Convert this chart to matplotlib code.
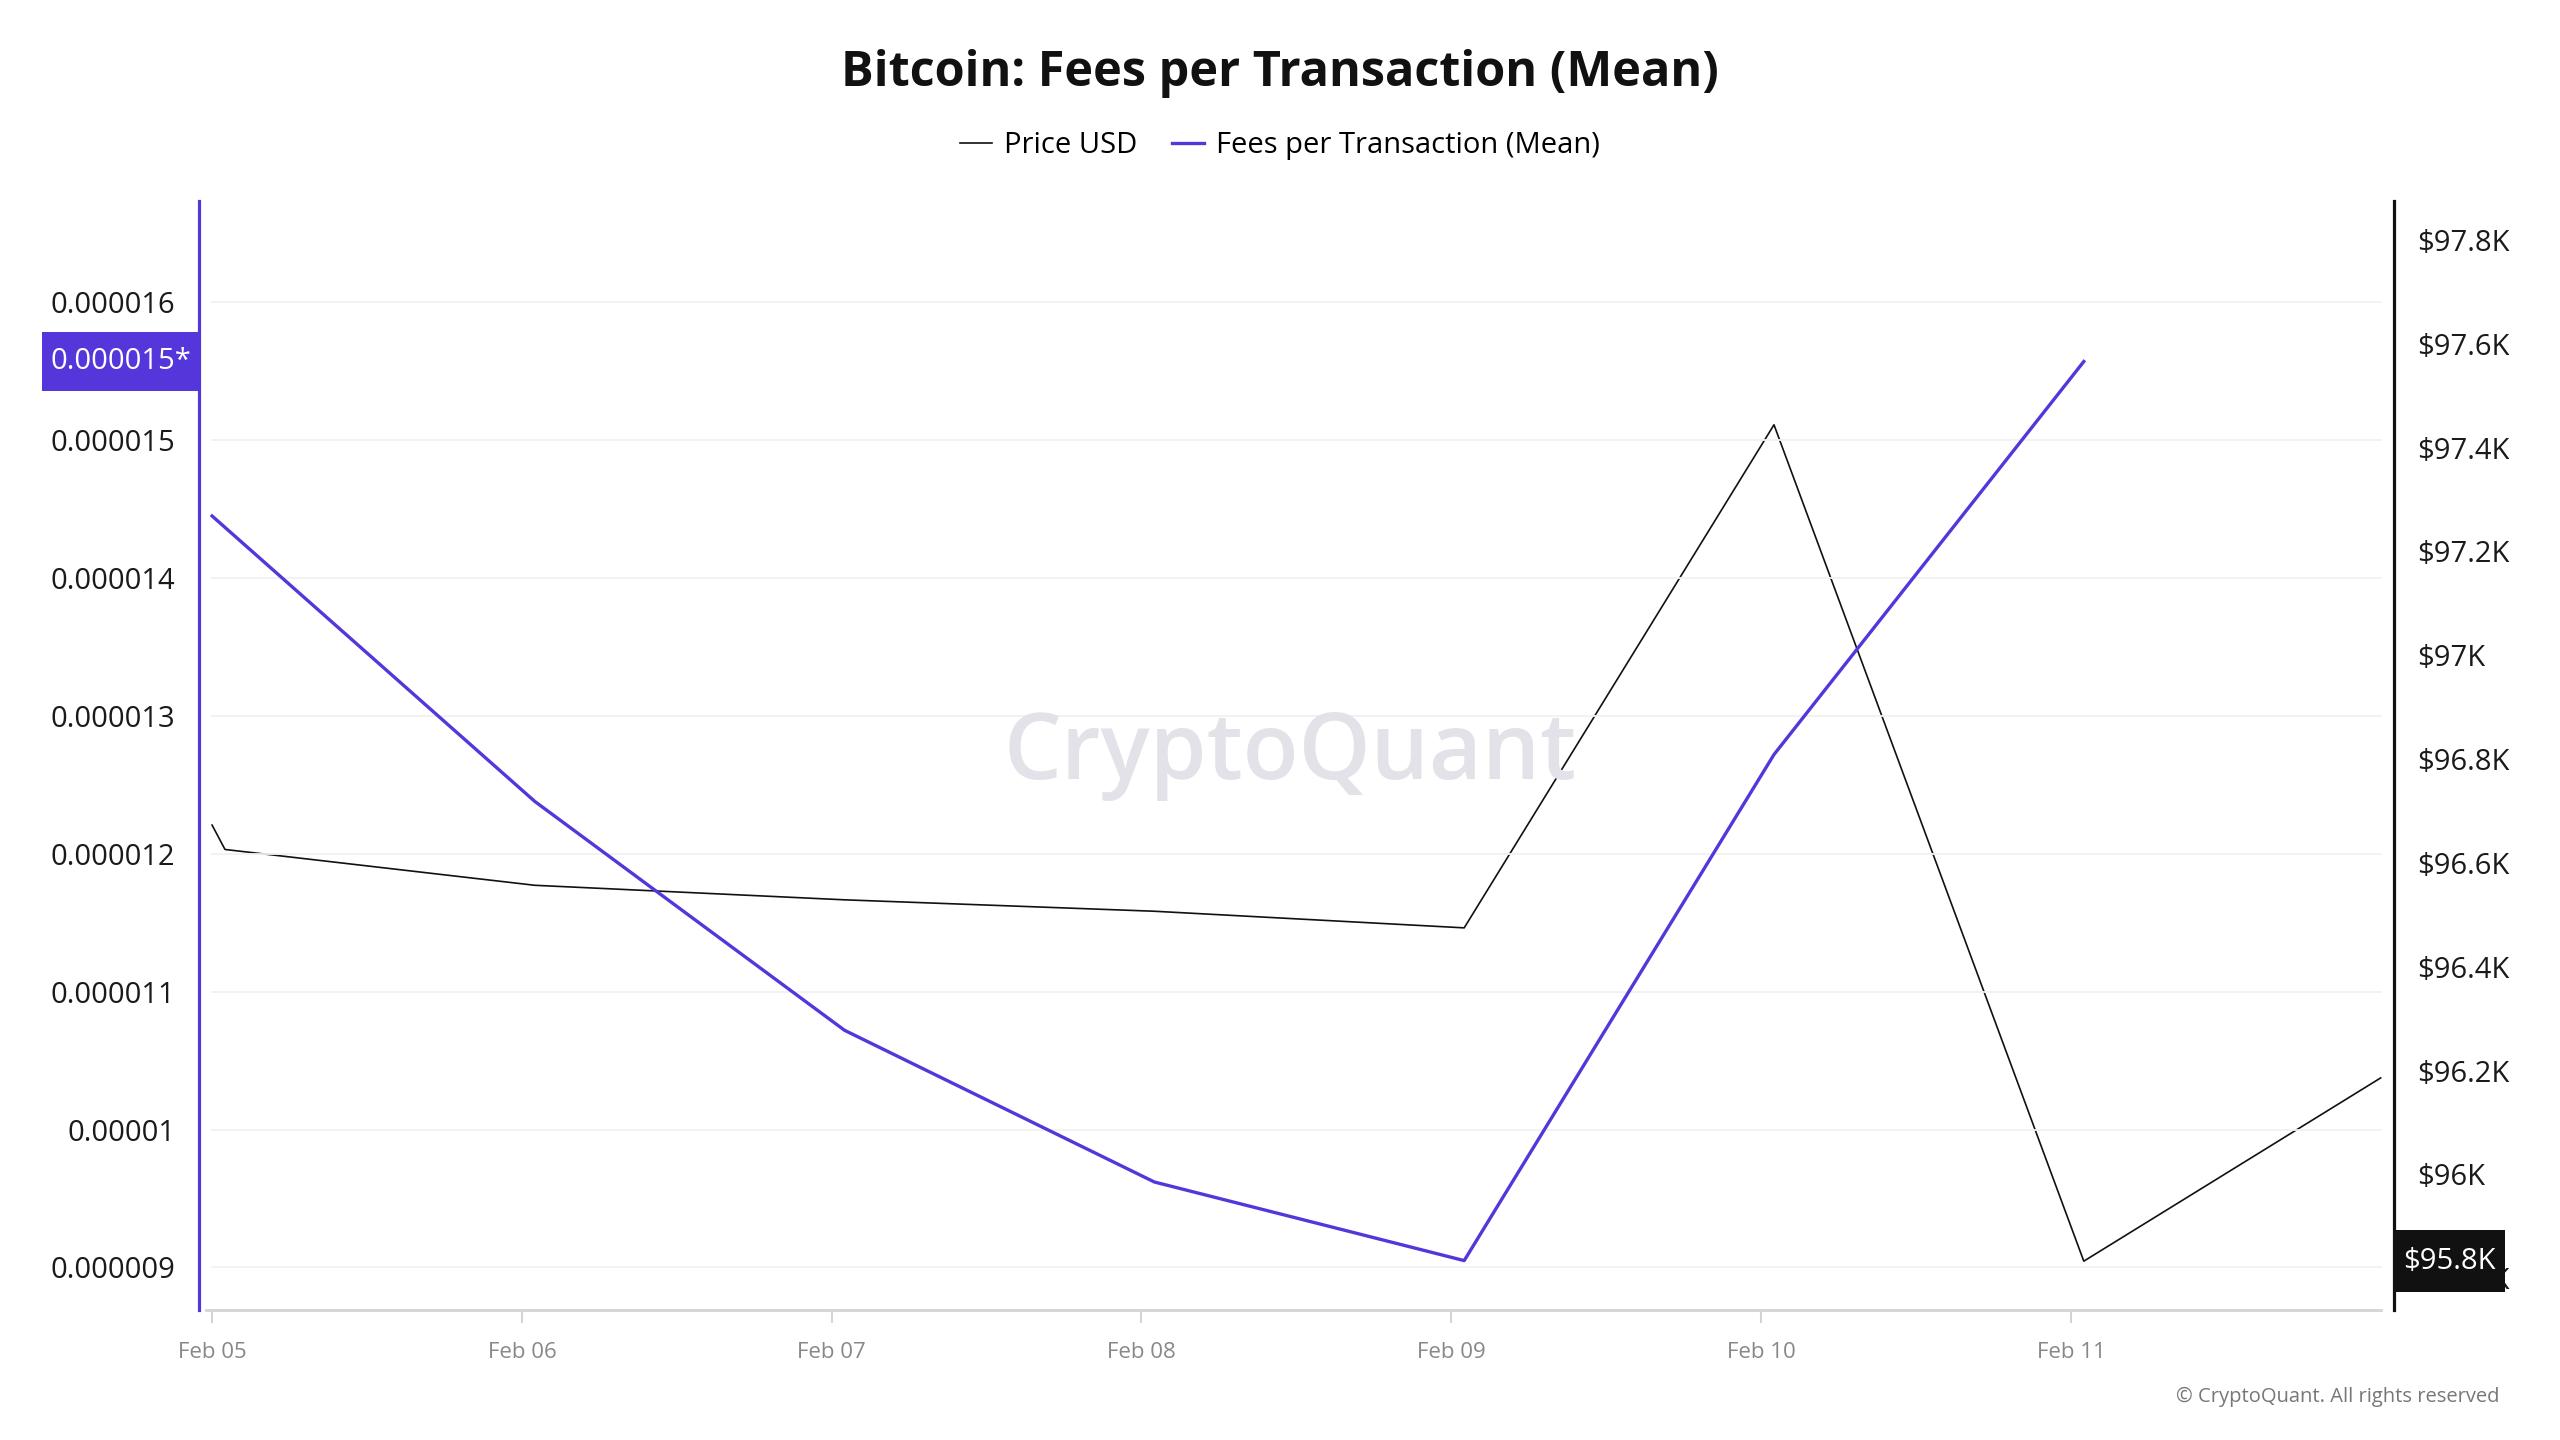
import matplotlib

matplotlib.use("Agg")
import matplotlib.dates as mdates
import matplotlib.pyplot as plt
import pandas as pd
from matplotlib.patches import Rectangle

plt.rcParams["font.family"] = ["Open Sans", "DejaVu Sans"]

# data
price_time = pd.to_datetime([
    "2025-02-05 00:00", "2025-02-05 01:00", "2025-02-06 01:00", "2025-02-07 01:00",
    "2025-02-08 01:00", "2025-02-09 01:00", "2025-02-10 01:00", "2025-02-11 01:00",
    "2025-02-12 00:00",
])
price_usd = [96673, 96626, 96557, 96529, 96507, 96475, 97444, 95833, 96186]

fees_time = pd.to_datetime([
    "2025-02-05 00:00", "2025-02-06 01:00", "2025-02-07 01:00", "2025-02-08 01:00",
    "2025-02-09 01:00", "2025-02-10 01:00", "2025-02-11 01:00",
])
fees_mean = [14.45e-6, 12.38e-6, 10.72e-6, 9.62e-6, 9.05e-6, 12.72e-6, 15.57e-6]

fee_ticks = [9e-6, 10e-6, 11e-6, 12e-6, 13e-6, 14e-6, 15e-6, 16e-6]
fee_tick_labels = ["0.000009", "0.00001", "0.000011", "0.000012",
                   "0.000013", "0.000014", "0.000015", "0.000016"]
price_ticks = [95800, 96000, 96200, 96400, 96600, 96800, 97000, 97200, 97400, 97600, 97800]
price_tick_labels = ["$95.8K", "$96K", "$96.2K", "$96.4K", "$96.6K", "$96.8K",
                     "$97K", "$97.2K", "$97.4K", "$97.6K", "$97.8K"]
date_ticks = pd.date_range("2025-02-05", "2025-02-11", freq="D")

FEES_COLOR = "#5536DA"
PRICE_COLOR = "#111111"

fig = plt.figure(figsize=(25.6, 14.4), dpi=100)
ax = fig.add_axes([0.0778, 0.0903, 0.935 - 0.0778, 0.8604 - 0.0903])
ax2 = ax.twinx()

x_start = pd.Timestamp("2025-02-05")
x_end = pd.Timestamp("2025-02-12")
ax.set_xlim(x_start - pd.Timedelta(hours=1.0), x_end + pd.Timedelta(hours=1.0))
fee_lim = (8.692e-6, 16.734e-6)
price_lim = (95739, 97875)
ax.set_ylim(*fee_lim)
ax2.set_ylim(*price_lim)

# gridlines only over the data span
for v in fee_ticks:
    ax.plot([x_start, x_end], [v, v], color="#f1f1f1", lw=1.3, zorder=0)

ax.text(0.497, 0.50, "CryptoQuant", transform=ax.transAxes, ha="center", va="center",
        fontsize=66, color="#e2e2e8", fontweight="semibold", zorder=0)

(price_line,) = ax2.plot(price_time, price_usd, color=PRICE_COLOR, lw=1.2, zorder=3,
                         label="Price USD")
(fees_line,) = ax.plot(fees_time, fees_mean, color=FEES_COLOR, lw=2.4, zorder=4,
                       label="Fees per Transaction (Mean)")
ax.set_zorder(ax2.get_zorder() + 1)
ax.patch.set_visible(False)

# axes styling
for side in ["top", "right", "bottom"]:
    ax.spines[side].set_visible(False)
for side in ["top", "left", "bottom"]:
    ax2.spines[side].set_visible(False)
ax.spines["left"].set_color(FEES_COLOR)
ax.spines["left"].set_linewidth(2.3)
ax2.spines["right"].set_color(PRICE_COLOR)
ax2.spines["right"].set_linewidth(2.3)

ax.plot([x_start - pd.Timedelta(hours=0.5), x_end], [fee_lim[0], fee_lim[0]],
        color="#d4d4d4", lw=2, clip_on=False, zorder=2)

ax.set_yticks(fee_ticks)
ax.set_yticklabels(fee_tick_labels)
ax.tick_params(axis="y", length=0, pad=17, labelsize=21, labelcolor="#1a1a1a")
ax2.set_yticks(price_ticks)
ax2.set_yticklabels(price_tick_labels)
ax2.tick_params(axis="y", length=0, pad=17, labelsize=21, labelcolor="#1a1a1a")

ax.set_xticks(date_ticks)
ax.xaxis.set_major_formatter(mdates.DateFormatter("%b %d"))
ax.tick_params(axis="x", length=9, width=1.5, color="#d4d4d4", pad=14,
               labelsize=16, labelcolor="#888888")

# last-value highlight boxes (x in axes fraction, y in data units)
fee_box_h = (fee_lim[1] - fee_lim[0]) * 0.053
ax.add_patch(Rectangle((-0.0714, fees_mean[-1] - fee_box_h / 2), 0.0714, fee_box_h,
                       transform=ax.get_yaxis_transform(), facecolor=FEES_COLOR,
                       edgecolor="none", clip_on=False, zorder=9))
ax.text(-0.0357, fees_mean[-1], "0.000015*", transform=ax.get_yaxis_transform(),
        ha="center", va="center", fontsize=21, color="white", zorder=10, clip_on=False)

price_box_h = (price_lim[1] - price_lim[0]) * 0.056
ax2.add_patch(Rectangle((1.0, price_usd[-2] - price_box_h / 2), 0.0506, price_box_h,
                        transform=ax2.get_yaxis_transform(), facecolor="#111111",
                        edgecolor="none", clip_on=False, zorder=9))
ax2.text(1.0253, price_usd[-2], "$95.8K", transform=ax2.get_yaxis_transform(),
         ha="center", va="center", fontsize=21, color="white", zorder=10, clip_on=False)

fig.text(0.5, 0.949, "Bitcoin: Fees per Transaction (Mean)", ha="center", va="center",
         fontsize=35, fontweight="bold", color="#111111")

handles = [price_line, fees_line]
fig.legend(handles, [h.get_label() for h in handles], loc="center",
           bbox_to_anchor=(0.5, 0.899), ncol=2, frameon=False, fontsize=21,
           handlelength=1.1, handletextpad=0.4, columnspacing=1.2)

fig.text(0.9765, 0.030, "© CryptoQuant. All rights reserved", ha="right", va="center",
         fontsize=14.5, color="#777777")

fig.savefig("out.png", dpi=100)
plt.close(fig)
